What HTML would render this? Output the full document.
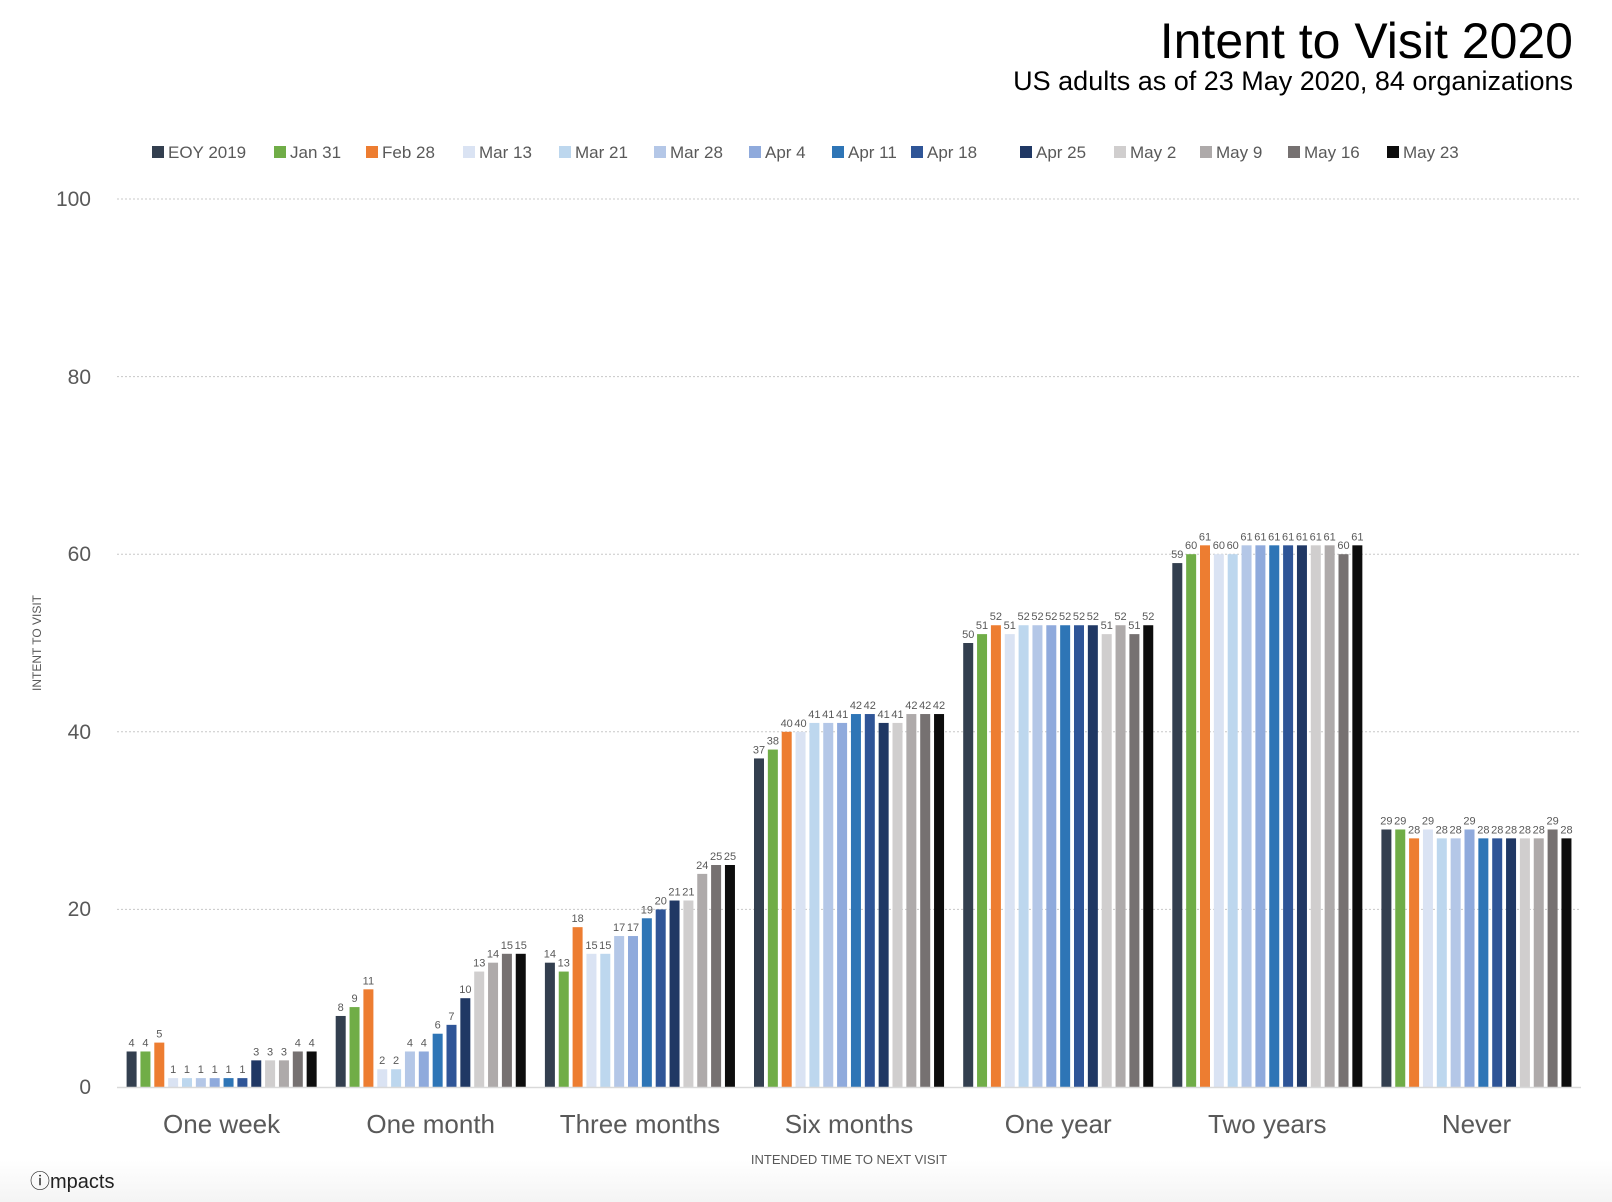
<!DOCTYPE html>
<html><head><meta charset="utf-8"><style>
html,body{margin:0;padding:0;background:#fff;}
svg{display:block;font-family:"Liberation Sans",sans-serif;}
.c0{fill:#333f4f}.c1{fill:#70ad47}.c2{fill:#ed7d31}.c3{fill:#dae3f3}.c4{fill:#bdd7ee}.c5{fill:#b4c7e7}.c6{fill:#8faadc}.c7{fill:#2e75b6}.c8{fill:#2f5597}.c9{fill:#203864}.c10{fill:#d0cece}.c11{fill:#aeaaaa}.c12{fill:#767171}.c13{fill:#0d0d0d}
.lb text{font-size:11px;fill:#595959;text-anchor:middle}
.lg text{font-size:17px;fill:#595959}
</style></head><body>
<svg width="1612" height="1202" viewBox="0 0 1612 1202" xmlns="http://www.w3.org/2000/svg">
<defs><linearGradient id="bg" x1="0" y1="0" x2="0" y2="1"><stop offset="0" stop-color="#fff"/><stop offset="1" stop-color="#f4f4f4"/></linearGradient></defs>
<rect x="0" y="1160" width="1612" height="42" fill="url(#bg)"/>
<text x="1573" y="58" font-size="50" text-anchor="end" fill="#000">Intent to Visit 2020</text>
<text x="1573" y="90" font-size="27" text-anchor="end" fill="#000">US adults as of 23 May 2020, 84 organizations</text>
<g class="lg">
<rect x="152" y="146" width="12" height="12" class="c0"/><text x="168" y="158">EOY 2019</text>
<rect x="274" y="146" width="12" height="12" class="c1"/><text x="290" y="158">Jan 31</text>
<rect x="366" y="146" width="12" height="12" class="c2"/><text x="382" y="158">Feb 28</text>
<rect x="463" y="146" width="12" height="12" class="c3"/><text x="479" y="158">Mar 13</text>
<rect x="559" y="146" width="12" height="12" class="c4"/><text x="575" y="158">Mar 21</text>
<rect x="654" y="146" width="12" height="12" class="c5"/><text x="670" y="158">Mar 28</text>
<rect x="749" y="146" width="12" height="12" class="c6"/><text x="765" y="158">Apr 4</text>
<rect x="832" y="146" width="12" height="12" class="c7"/><text x="848" y="158">Apr 11</text>
<rect x="911" y="146" width="12" height="12" class="c8"/><text x="927" y="158">Apr 18</text>
<rect x="1020" y="146" width="12" height="12" class="c9"/><text x="1036" y="158">Apr 25</text>
<rect x="1114" y="146" width="12" height="12" class="c10"/><text x="1130" y="158">May 2</text>
<rect x="1200" y="146" width="12" height="12" class="c11"/><text x="1216" y="158">May 9</text>
<rect x="1288" y="146" width="12" height="12" class="c12"/><text x="1304" y="158">May 16</text>
<rect x="1387" y="146" width="12" height="12" class="c13"/><text x="1403" y="158">May 23</text>
</g>
<g stroke="#c8c8c8" stroke-width="1" stroke-dasharray="2,2">
<line x1="117" x2="1581" y1="199" y2="199"/><line x1="117" x2="1581" y1="376.6" y2="376.6"/><line x1="117" x2="1581" y1="554.2" y2="554.2"/><line x1="117" x2="1581" y1="731.8" y2="731.8"/><line x1="117" x2="1581" y1="909.4" y2="909.4"/>
</g>
<g font-size="21" fill="#595959" text-anchor="end">
<text x="91" y="206">100</text><text x="91" y="384">80</text><text x="91" y="561">60</text><text x="91" y="739">40</text><text x="91" y="916">20</text><text x="91" y="1094">0</text>
</g>
<text transform="translate(41,643) rotate(-90)" font-size="12" fill="#595959" text-anchor="middle">INTENT TO VISIT</text>
<text x="849" y="1164" font-size="13" fill="#595959" text-anchor="middle">INTENDED TIME TO NEXT VISIT</text>
<g font-size="26" fill="#595959" text-anchor="middle">
<text x="221.6" y="1133">One week</text><text x="430.7" y="1133">One month</text><text x="639.9" y="1133">Three months</text><text x="849" y="1133">Six months</text><text x="1058.2" y="1133">One year</text><text x="1267.3" y="1133">Two years</text><text x="1476.5" y="1133">Never</text>
</g>
<text x="30" y="1188" font-size="20" fill="#222">ⓘmpacts</text>

<!-- One week -->
<g transform="translate(126.6,1087) scale(1,-8.88)">
<rect x="0" width="10" height="4" class="c0"/><rect x="13.85" width="10" height="4" class="c1"/><rect x="27.7" width="10" height="5" class="c2"/><rect x="41.55" width="10" height="1" class="c3"/><rect x="55.4" width="10" height="1" class="c4"/><rect x="69.25" width="10" height="1" class="c5"/><rect x="83.1" width="10" height="1" class="c6"/><rect x="96.95" width="10" height="1" class="c7"/><rect x="110.8" width="10" height="1" class="c8"/><rect x="124.65" width="10" height="3" class="c9"/><rect x="138.5" width="10" height="3" class="c10"/><rect x="152.35" width="10" height="3" class="c11"/><rect x="166.2" width="10" height="4" class="c12"/><rect x="180.05" width="10" height="4" class="c13"/>
</g>
<g class="lb" transform="translate(126.6,0)">
<text x="5" y="1046.5">4</text><text x="18.85" y="1046.5">4</text><text x="32.7" y="1037.6">5</text><text x="46.55" y="1073.1">1</text><text x="60.4" y="1073.1">1</text><text x="74.25" y="1073.1">1</text><text x="88.1" y="1073.1">1</text><text x="101.95" y="1073.1">1</text><text x="115.8" y="1073.1">1</text><text x="129.65" y="1055.4">3</text><text x="143.5" y="1055.4">3</text><text x="157.35" y="1055.4">3</text><text x="171.2" y="1046.5">4</text><text x="185.05" y="1046.5">4</text>
</g>
<!-- One month -->
<g transform="translate(335.7,1087) scale(1,-8.88)">
<rect x="0" width="10" height="8" class="c0"/><rect x="13.85" width="10" height="9" class="c1"/><rect x="27.7" width="10" height="11" class="c2"/><rect x="41.55" width="10" height="2" class="c3"/><rect x="55.4" width="10" height="2" class="c4"/><rect x="69.25" width="10" height="4" class="c5"/><rect x="83.1" width="10" height="4" class="c6"/><rect x="96.95" width="10" height="6" class="c7"/><rect x="110.8" width="10" height="7" class="c8"/><rect x="124.65" width="10" height="10" class="c9"/><rect x="138.5" width="10" height="13" class="c10"/><rect x="152.35" width="10" height="14" class="c11"/><rect x="166.2" width="10" height="15" class="c12"/><rect x="180.05" width="10" height="15" class="c13"/>
</g>
<g class="lb" transform="translate(335.7,0)">
<text x="5" y="1011">8</text><text x="18.85" y="1002.1">9</text><text x="32.7" y="984.3">11</text><text x="46.55" y="1064.2">2</text><text x="60.4" y="1064.2">2</text><text x="74.25" y="1046.5">4</text><text x="88.1" y="1046.5">4</text><text x="101.95" y="1028.7">6</text><text x="115.8" y="1019.8">7</text><text x="129.65" y="993.2">10</text><text x="143.5" y="966.6">13</text><text x="157.35" y="957.7">14</text><text x="171.2" y="948.8">15</text><text x="185.05" y="948.8">15</text>
</g>
<!-- Three months -->
<g transform="translate(544.9,1087) scale(1,-8.88)">
<rect x="0" width="10" height="14" class="c0"/><rect x="13.85" width="10" height="13" class="c1"/><rect x="27.7" width="10" height="18" class="c2"/><rect x="41.55" width="10" height="15" class="c3"/><rect x="55.4" width="10" height="15" class="c4"/><rect x="69.25" width="10" height="17" class="c5"/><rect x="83.1" width="10" height="17" class="c6"/><rect x="96.95" width="10" height="19" class="c7"/><rect x="110.8" width="10" height="20" class="c8"/><rect x="124.65" width="10" height="21" class="c9"/><rect x="138.5" width="10" height="21" class="c10"/><rect x="152.35" width="10" height="24" class="c11"/><rect x="166.2" width="10" height="25" class="c12"/><rect x="180.05" width="10" height="25" class="c13"/>
</g>
<g class="lb" transform="translate(544.9,0)">
<text x="5" y="957.7">14</text><text x="18.85" y="966.6">13</text><text x="32.7" y="922.2">18</text><text x="46.55" y="948.8">15</text><text x="60.4" y="948.8">15</text><text x="74.25" y="931">17</text><text x="88.1" y="931">17</text><text x="101.95" y="913.3">19</text><text x="115.8" y="904.4">20</text><text x="129.65" y="895.5">21</text><text x="143.5" y="895.5">21</text><text x="157.35" y="868.9">24</text><text x="171.2" y="860">25</text><text x="185.05" y="860">25</text>
</g>
<!-- Six months -->
<g transform="translate(754,1087) scale(1,-8.88)">
<rect x="0" width="10" height="37" class="c0"/><rect x="13.85" width="10" height="38" class="c1"/><rect x="27.7" width="10" height="40" class="c2"/><rect x="41.55" width="10" height="40" class="c3"/><rect x="55.4" width="10" height="41" class="c4"/><rect x="69.25" width="10" height="41" class="c5"/><rect x="83.1" width="10" height="41" class="c6"/><rect x="96.95" width="10" height="42" class="c7"/><rect x="110.8" width="10" height="42" class="c8"/><rect x="124.65" width="10" height="41" class="c9"/><rect x="138.5" width="10" height="41" class="c10"/><rect x="152.35" width="10" height="42" class="c11"/><rect x="166.2" width="10" height="42" class="c12"/><rect x="180.05" width="10" height="42" class="c13"/>
</g>
<g class="lb" transform="translate(754,0)">
<text x="5" y="753.4">37</text><text x="18.85" y="744.6">38</text><text x="32.7" y="726.8">40</text><text x="46.55" y="726.8">40</text><text x="60.4" y="717.9">41</text><text x="74.25" y="717.9">41</text><text x="88.1" y="717.9">41</text><text x="101.95" y="709">42</text><text x="115.8" y="709">42</text><text x="129.65" y="717.9">41</text><text x="143.5" y="717.9">41</text><text x="157.35" y="709">42</text><text x="171.2" y="709">42</text><text x="185.05" y="709">42</text>
</g>
<!-- One year -->
<g transform="translate(963.2,1087) scale(1,-8.88)">
<rect x="0" width="10" height="50" class="c0"/><rect x="13.85" width="10" height="51" class="c1"/><rect x="27.7" width="10" height="52" class="c2"/><rect x="41.55" width="10" height="51" class="c3"/><rect x="55.4" width="10" height="52" class="c4"/><rect x="69.25" width="10" height="52" class="c5"/><rect x="83.1" width="10" height="52" class="c6"/><rect x="96.95" width="10" height="52" class="c7"/><rect x="110.8" width="10" height="52" class="c8"/><rect x="124.65" width="10" height="52" class="c9"/><rect x="138.5" width="10" height="51" class="c10"/><rect x="152.35" width="10" height="52" class="c11"/><rect x="166.2" width="10" height="51" class="c12"/><rect x="180.05" width="10" height="52" class="c13"/>
</g>
<g class="lb" transform="translate(963.2,0)">
<text x="5" y="638">50</text><text x="18.85" y="629.1">51</text><text x="32.7" y="620.2">52</text><text x="46.55" y="629.1">51</text><text x="60.4" y="620.2">52</text><text x="74.25" y="620.2">52</text><text x="88.1" y="620.2">52</text><text x="101.95" y="620.2">52</text><text x="115.8" y="620.2">52</text><text x="129.65" y="620.2">52</text><text x="143.5" y="629.1">51</text><text x="157.35" y="620.2">52</text><text x="171.2" y="629.1">51</text><text x="185.05" y="620.2">52</text>
</g>
<!-- Two years -->
<g transform="translate(1172.3,1087) scale(1,-8.88)">
<rect x="0" width="10" height="59" class="c0"/><rect x="13.85" width="10" height="60" class="c1"/><rect x="27.7" width="10" height="61" class="c2"/><rect x="41.55" width="10" height="60" class="c3"/><rect x="55.4" width="10" height="60" class="c4"/><rect x="69.25" width="10" height="61" class="c5"/><rect x="83.1" width="10" height="61" class="c6"/><rect x="96.95" width="10" height="61" class="c7"/><rect x="110.8" width="10" height="61" class="c8"/><rect x="124.65" width="10" height="61" class="c9"/><rect x="138.5" width="10" height="61" class="c10"/><rect x="152.35" width="10" height="61" class="c11"/><rect x="166.2" width="10" height="60" class="c12"/><rect x="180.05" width="10" height="61" class="c13"/>
</g>
<g class="lb" transform="translate(1172.3,0)">
<text x="5" y="558.1">59</text><text x="18.85" y="549.2">60</text><text x="32.7" y="540.3">61</text><text x="46.55" y="549.2">60</text><text x="60.4" y="549.2">60</text><text x="74.25" y="540.3">61</text><text x="88.1" y="540.3">61</text><text x="101.95" y="540.3">61</text><text x="115.8" y="540.3">61</text><text x="129.65" y="540.3">61</text><text x="143.5" y="540.3">61</text><text x="157.35" y="540.3">61</text><text x="171.2" y="549.2">60</text><text x="185.05" y="540.3">61</text>
</g>
<!-- Never -->
<g transform="translate(1381.4,1087) scale(1,-8.88)">
<rect x="0" width="10" height="29" class="c0"/><rect x="13.85" width="10" height="29" class="c1"/><rect x="27.7" width="10" height="28" class="c2"/><rect x="41.55" width="10" height="29" class="c3"/><rect x="55.4" width="10" height="28" class="c4"/><rect x="69.25" width="10" height="28" class="c5"/><rect x="83.1" width="10" height="29" class="c6"/><rect x="96.95" width="10" height="28" class="c7"/><rect x="110.8" width="10" height="28" class="c8"/><rect x="124.65" width="10" height="28" class="c9"/><rect x="138.5" width="10" height="28" class="c10"/><rect x="152.35" width="10" height="28" class="c11"/><rect x="166.2" width="10" height="29" class="c12"/><rect x="180.05" width="10" height="28" class="c13"/>
</g>
<g class="lb" transform="translate(1381.4,0)">
<text x="5" y="824.5">29</text><text x="18.85" y="824.5">29</text><text x="32.7" y="833.4">28</text><text x="46.55" y="824.5">29</text><text x="60.4" y="833.4">28</text><text x="74.25" y="833.4">28</text><text x="88.1" y="824.5">29</text><text x="101.95" y="833.4">28</text><text x="115.8" y="833.4">28</text><text x="129.65" y="833.4">28</text><text x="143.5" y="833.4">28</text><text x="157.35" y="833.4">28</text><text x="171.2" y="824.5">29</text><text x="185.05" y="833.4">28</text>
</g>
<line x1="117" x2="1581" y1="1087.5" y2="1087.5" stroke="#d9d9d9" stroke-width="1.5"/>
</svg>
</body></html>
